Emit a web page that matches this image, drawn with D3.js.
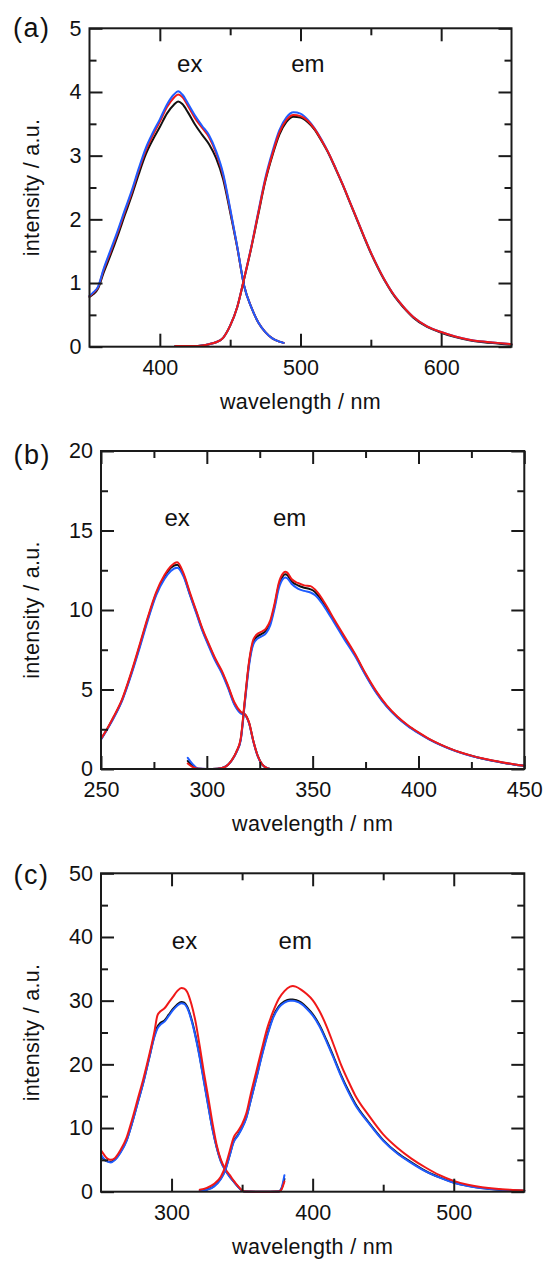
<!DOCTYPE html>
<html>
<head>
<meta charset="utf-8">
<script src="https://cdn.jsdelivr.net/npm/d3@7"></script>
<style>
  body { margin: 0; background: #fff; }
  text { font-family: "Liberation Sans", Arial, Helvetica, sans-serif; fill: #111; }
</style>
</head>
<body>
<svg id="fig" width="545" height="1262"></svg>
<script>
// ---------- (a) ----------
const exWlA = [350,353,356,360,365,370,375,380,385,390,395,400,405,410,413,416,420,425,430,435,440,445,450,455,460,465,470,475,480,485,488];
const exBlackA = [0.78,0.83,0.91,1.16,1.44,1.74,2.06,2.37,2.71,3.02,3.25,3.45,3.66,3.80,3.85,3.81,3.68,3.49,3.33,3.18,2.96,2.63,2.11,1.56,0.95,0.62,0.38,0.23,0.13,0.08,0.06];
const exRedA   = [0.79,0.85,0.93,1.20,1.49,1.79,2.11,2.42,2.77,3.08,3.32,3.53,3.76,3.91,3.96,3.92,3.78,3.59,3.44,3.29,3.04,2.69,2.15,1.57,0.95,0.62,0.38,0.23,0.13,0.08,0.06];
const exBlueA  = [0.80,0.86,0.94,1.22,1.52,1.82,2.14,2.45,2.80,3.12,3.36,3.57,3.80,3.96,4.01,3.96,3.82,3.63,3.47,3.32,3.07,2.72,2.17,1.58,0.95,0.62,0.38,0.23,0.13,0.08,0.06];
const emWlA = [411,415,420,425,430,435,440,445,450,455,460,465,470,475,480,485,490,495,500,505,510,515,520,525,530,535,540,545,550,555,560,565,570,575,580,590,600,610,620,630,640,650];
const emBlackA = [0.01,0.01,0.01,0.01,0.02,0.04,0.07,0.14,0.33,0.62,1.07,1.55,2.08,2.60,3.00,3.33,3.53,3.61,3.60,3.53,3.41,3.23,3.03,2.79,2.54,2.27,2.00,1.73,1.47,1.24,1.03,0.85,0.70,0.57,0.46,0.31,0.22,0.15,0.10,0.07,0.05,0.03];
const emRedA   = [0.01,0.01,0.01,0.01,0.02,0.04,0.07,0.14,0.33,0.62,1.08,1.56,2.10,2.62,3.02,3.36,3.56,3.64,3.62,3.55,3.42,3.24,3.04,2.80,2.55,2.28,2.01,1.74,1.48,1.25,1.04,0.86,0.71,0.58,0.47,0.32,0.23,0.16,0.11,0.08,0.06,0.04];
const emBlueA  = [0.01,0.01,0.01,0.01,0.02,0.04,0.07,0.14,0.33,0.62,1.08,1.57,2.12,2.65,3.06,3.40,3.60,3.68,3.66,3.57,3.43,3.25,3.04,2.80,2.55,2.28,2.01,1.74,1.48,1.25,1.04,0.86,0.71,0.58,0.47,0.32,0.23,0.16,0.11,0.08,0.06,0.04];
const xTicksA = [400,500,600];
const yTicksA = [0,1,2,3,4,5];

// ---------- (b) ----------
const exWlB = [250,253,256,260,264,268,272,276,280,283,286,289,292,295,298,301,304,307,310,313,316,318,320,322,324,326,328,330];
const exBlackB = [1.88,2.53,3.25,4.35,5.88,7.6,9.4,11.0,12.1,12.65,12.85,12.2,11.0,9.88,8.72,7.78,6.88,6.12,5.18,4.12,3.55,3.43,2.88,1.74,0.84,0.31,0.08,0.0];
const exBlueB  = [1.85,2.5,3.2,4.3,5.8,7.5,9.3,10.9,11.95,12.45,12.65,12.1,10.95,9.8,8.65,7.7,6.8,6.05,5.1,4.05,3.5,3.4,2.85,1.72,0.83,0.31,0.08,0.0];
const exRedB   = [1.9,2.55,3.3,4.4,5.95,7.7,9.5,11.1,12.2,12.75,13.0,12.3,11.1,9.95,8.8,7.85,6.95,6.2,5.25,4.2,3.6,3.45,2.9,1.75,0.85,0.32,0.08,0.0];
const emWlB = [291,293,296,300,305,308,310,312,314,316,318,320,322,324,326,328,330,332,334,336,337,338,340,343,346,349,351,354,357,360,365,370,375,380,385,390,395,400,405,410,415,420,425,430,435,440,445,450];
const emBlackB = [0.5,0.25,0.02,0,0.02,0.1,0.27,0.59,1.08,1.85,4.3,6.7,8.0,8.35,8.5,8.7,9.2,10.25,11.55,12.15,12.25,12.2,11.8,11.55,11.4,11.3,11.15,10.65,10.05,9.35,8.25,7.18,5.95,4.85,3.96,3.27,2.72,2.28,1.88,1.55,1.27,1.03,0.83,0.66,0.52,0.4,0.29,0.2];
const emBlueB  = [0.7,0.35,0.03,0,0.02,0.1,0.26,0.58,1.05,1.8,4.2,6.55,7.85,8.2,8.35,8.55,9.05,10.1,11.35,11.95,12.05,12.0,11.65,11.35,11.2,11.1,10.95,10.5,9.9,9.25,8.15,7.1,5.9,4.8,3.92,3.24,2.7,2.26,1.87,1.54,1.26,1.02,0.82,0.66,0.52,0.4,0.29,0.2];
const emRedB   = [0.35,0.15,0.01,0,0.02,0.1,0.27,0.6,1.1,1.9,4.4,6.8,8.15,8.5,8.65,8.85,9.35,10.4,11.7,12.3,12.4,12.35,11.95,11.7,11.55,11.5,11.3,10.8,10.15,9.45,8.35,7.25,6.0,4.9,4.0,3.3,2.75,2.3,1.9,1.57,1.28,1.04,0.84,0.67,0.53,0.41,0.3,0.21];
const xTicksB = [250,300,350,400,450];
const yTicksB = [0,5,10,15,20];

// ---------- (c) ----------
const exWlC = [250,252,254,257,260,264,268,272,276,280,284,288,290,292,295,298,301,304,307,309,311,314,317,320,323,326,329,332,335,338,341,344,347,350,352,360,370,376,378,380];
const exBlackC = [5.6,5.1,4.8,4.7,5.1,6.3,8.0,10.8,14.0,17.2,20.9,24.6,25.9,26.5,26.9,27.8,28.7,29.4,29.8,29.7,29.1,27.2,24.5,21.2,17.4,13.6,9.9,7.0,4.8,3.45,2.45,1.62,0.82,0.15,0.02,0,0,0.02,0.5,2.0];
const exBlueC  = [5.8,5.2,4.8,4.6,5.0,6.2,7.9,10.7,13.9,17.1,20.8,24.4,25.6,26.2,26.7,27.6,28.5,29.2,29.6,29.5,28.9,27.0,24.3,21.0,17.2,13.4,9.8,6.9,4.7,3.4,2.4,1.6,0.8,0.15,0.02,0,0,0.02,0.6,2.6];
const exRedC   = [6.5,5.85,5.3,5.0,5.3,6.6,8.4,11.3,14.5,17.7,21.3,25.3,27.7,28.3,28.8,29.7,30.6,31.5,32.0,31.9,31.4,29.5,26.7,22.8,18.6,14.8,10.8,7.3,5.0,3.6,2.7,1.75,0.9,0.2,0.02,0,0,0.02,0.4,1.6];
const emWlC = [320,325,330,335,338,341,344,347,350,353,356,360,364,368,372,376,380,384,386,388,392,396,400,405,410,415,420,425,430,440,450,460,470,480,490,500,510,520,530,540,550];
const emBlackC = [0.15,0.35,0.85,2.1,3.4,5.6,7.9,8.9,10.1,11.7,14.3,17.8,21.5,24.8,27.5,29.1,29.9,30.2,30.2,30.1,29.7,28.9,27.9,26.1,23.7,21.1,18.4,16.0,13.9,10.8,8.1,6.1,4.6,3.25,2.25,1.45,0.92,0.57,0.36,0.23,0.16];
const emBlueC  = [0.1,0.3,0.8,2.0,3.3,5.5,7.8,8.8,10.0,11.6,14.2,17.7,21.3,24.6,27.3,28.9,29.7,30.0,30.0,29.9,29.5,28.7,27.7,25.9,23.5,20.9,18.2,15.8,13.7,10.7,8.0,6.0,4.5,3.2,2.2,1.4,0.9,0.55,0.35,0.22,0.15];
const emRedC   = [0.3,0.6,1.2,2.4,3.9,6.2,8.5,9.5,10.6,12.3,15.2,18.8,22.4,25.8,28.3,30.3,31.5,32.2,32.3,32.2,31.7,31.0,30.1,28.3,25.9,23.0,20.0,17.5,15.2,11.9,9.0,6.9,5.2,3.8,2.6,1.7,1.1,0.7,0.45,0.3,0.2];
const xTicksC = [300,400,500];
const yTicksC = [0,10,20,30,40,50];

const BLACK = "#111111", RED = "#f01818", BLUE = "#1f5cff";

const panels = [
  {
    tag: "(a)", tagX: 13, tagY: 37,
    left: 89.5, right: 511.5, top: 28.3, bottom: 346.7,
    xDomain: [350, 650], yDomain: [0, 5],
    xTicks: xTicksA, xMinor: [450, 550],
    yTicks: yTicksA, yMinor: d3.range(0.5, 5, 1),
    ex: [421.3, 4.31], em: [505.2, 4.31],
    series: [
      [exWlA, exBlackA, BLACK], [exWlA, exRedA, RED], [exWlA, exBlueA, BLUE],
      [emWlA, emBlackA, BLACK], [emWlA, emBlueA, BLUE], [emWlA, emRedA, RED]
    ]
  },
  {
    tag: "(b)", tagX: 13.5, tagY: 463.5,
    left: 101, right: 524.3, top: 451, bottom: 769,
    xDomain: [250, 450], yDomain: [0, 20],
    xTicks: xTicksB, xMinor: [275, 325, 375, 425],
    yTicks: yTicksB, yMinor: d3.range(2.5, 20, 5),
    ex: [286.0, 15.28], em: [339.1, 15.28],
    series: [
      [exWlB, exBlackB, BLACK], [exWlB, exBlueB, BLUE], [exWlB, exRedB, RED],
      [emWlB, emBlackB, BLACK], [emWlB, emBlueB, BLUE], [emWlB, emRedB, RED]
    ]
  },
  {
    tag: "(c)", tagX: 13.5, tagY: 883.5,
    left: 101, right: 524.3, top: 873.3, bottom: 1191.7,
    xDomain: [250, 550], yDomain: [0, 50],
    xTicks: xTicksC, xMinor: [350, 450],
    yTicks: yTicksC, yMinor: d3.range(5, 50, 10),
    ex: [309.2, 38.07], em: [387.7, 38.07],
    series: [
      [exWlC, exBlackC, BLACK], [exWlC, exBlueC, BLUE], [exWlC, exRedC, RED],
      [emWlC, emBlackC, BLACK], [emWlC, emBlueC, BLUE], [emWlC, emRedC, RED]
    ]
  }
];

const svg = d3.select("#fig");
svg.append("rect").attr("width", 545).attr("height", 1262).attr("fill", "#fff");

const MAJOR = 13, MINOR = 7, TICK_FONT = "21.5px";

function styleAxis(g) {
  g.attr("font-size", null).attr("font-family", null);
  g.select(".domain").remove();
  g.selectAll(".tick line").attr("stroke", "#1a1a1a").attr("stroke-width", 2);
  g.selectAll(".tick text").style("font-size", TICK_FONT).attr("fill", "#111");
}

panels.forEach(p => {
  const g = svg.append("g");
  const x = d3.scaleLinear().domain(p.xDomain).range([p.left, p.right]);
  const y = d3.scaleLinear().domain(p.yDomain).range([p.bottom, p.top]);

  // spectra
  const line = d3.line()
    .x(d => x(d[0]))
    .y(d => y(d[1]))
    .curve(d3.curveMonotoneX);
  p.series.forEach(([wl, vals, color]) => {
    g.append("path")
      .datum(wl.map((w, i) => [w, vals[i]]))
      .attr("d", line)
      .attr("fill", "none")
      .attr("stroke", color)
      .attr("stroke-width", 2)
      .attr("stroke-linejoin", "round")
      .attr("stroke-linecap", "round");
  });

  // inward ticks on all four sides
  const fmt = d3.format("d");
  g.append("g").attr("transform", `translate(0,${p.bottom})`)
    .call(d3.axisBottom(x).tickValues(p.xTicks).tickSize(-MAJOR).tickPadding(12.7).tickFormat(fmt)).call(styleAxis);
  g.append("g").attr("transform", `translate(0,${p.bottom})`)
    .call(d3.axisBottom(x).tickValues(p.xMinor).tickSize(-MINOR).tickFormat("")).call(styleAxis);
  g.append("g").attr("transform", `translate(0,${p.top})`)
    .call(d3.axisTop(x).tickValues(p.xTicks).tickSize(-MAJOR).tickFormat("")).call(styleAxis);
  g.append("g").attr("transform", `translate(0,${p.top})`)
    .call(d3.axisTop(x).tickValues(p.xMinor).tickSize(-MINOR).tickFormat("")).call(styleAxis);
  g.append("g").attr("transform", `translate(${p.left},0)`)
    .call(d3.axisLeft(y).tickValues(p.yTicks).tickSize(-MAJOR).tickPadding(8).tickFormat(fmt)).call(styleAxis);
  g.append("g").attr("transform", `translate(${p.left},0)`)
    .call(d3.axisLeft(y).tickValues(p.yMinor).tickSize(-MINOR).tickFormat("")).call(styleAxis);
  g.append("g").attr("transform", `translate(${p.right},0)`)
    .call(d3.axisRight(y).tickValues(p.yTicks).tickSize(-MAJOR).tickFormat("")).call(styleAxis);
  g.append("g").attr("transform", `translate(${p.right},0)`)
    .call(d3.axisRight(y).tickValues(p.yMinor).tickSize(-MINOR).tickFormat("")).call(styleAxis);

  // frame
  g.append("rect")
    .attr("x", p.left).attr("y", p.top)
    .attr("width", p.right - p.left).attr("height", p.bottom - p.top)
    .attr("fill", "none").attr("stroke", "#1a1a1a").attr("stroke-width", 2);

  // axis titles
  g.append("text")
    .attr("x", (p.left + p.right) / 2).attr("y", p.bottom + 62)
    .attr("text-anchor", "middle")
    .style("font-size", "21.5px").style("letter-spacing", "0.3px")
    .text("wavelength / nm");
  g.append("text")
    .attr("transform", `translate(38.5,${(p.top + p.bottom) / 2}) rotate(-90)`)
    .attr("text-anchor", "middle")
    .style("font-size", "21.5px").style("letter-spacing", "0.3px")
    .text("intensity / a.u.");

  // panel tag
  g.append("text")
    .attr("x", p.tagX).attr("y", p.tagY)
    .style("font-size", "27px").style("letter-spacing", "1.5px")
    .text(p.tag);

  // band annotations
  g.append("text").attr("x", x(p.ex[0])).attr("y", y(p.ex[1]))
    .attr("text-anchor", "middle").style("font-size", "24px").text("ex");
  g.append("text").attr("x", x(p.em[0])).attr("y", y(p.em[1]))
    .attr("text-anchor", "middle").style("font-size", "24px").text("em");
});
</script>
</body>
</html>
